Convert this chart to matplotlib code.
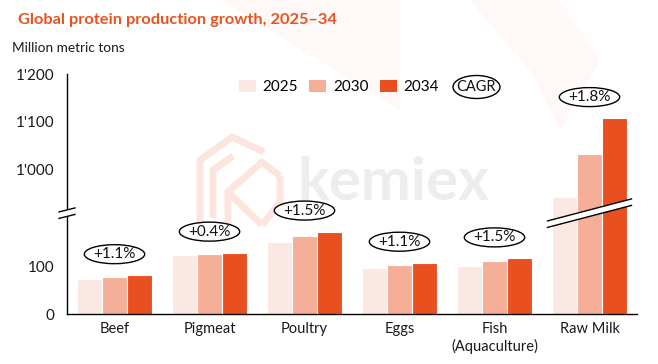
import numpy as np
import matplotlib.pyplot as plt
from matplotlib.patches import Patch, Ellipse, Polygon
from matplotlib.lines import Line2D
from matplotlib.transforms import ScaledTranslation, blended_transform_factory

plt.rcParams['font.family'] = ['Lato', 'DejaVu Sans']

categories = ['Beef', 'Pigmeat', 'Poultry', 'Eggs', 'Fish\n(Aquaculture)', 'Raw Milk']
years = ['2025', '2030', '2034']
v2025 = [73, 123, 150, 96, 100, 944]
v2030 = [78, 126, 162, 102, 110, 1033]
v2034 = [81, 128, 172, 107, 116, 1108]
cagr = ['+1.1%', '+0.4%', '+1.5%', '+1.1%', '+1.5%', '+1.8%']
yticks = [0, 100, 1000, 1100, 1200]
ytick_labels = ["0", "100", "1'000", "1'100", "1'200"]

colors = ['#fce8e3', '#f5af98', '#e8501f']
title_color = '#e9531f'

# broken axis: squeeze 210..910 into almost nothing
LO, HI, K = 210, 910, 0.001
GAP = (HI - LO) * K


def fwd(v):
    v = np.asarray(v, float)
    return np.where(v <= LO, v, np.where(v < HI, LO + (v - LO) * K, LO + GAP + v - HI))


def inv(u):
    u = np.asarray(u, float)
    return np.where(u <= LO, u, np.where(u < LO + GAP, LO + (u - LO) / K, u - LO - GAP + HI))


W, H = 658, 364
fig = plt.figure(figsize=(W / 100, H / 100), dpi=100)


def px(pts):
    return [(p[0] / W, 1 - p[1] / H) for p in pts]


# faint background shapes
for pts in ([(220, 0), (400, 0), (400, 110)],
            [(470, 0), (560, 0), (600, 60), (560, 130), (530, 70)]):
    fig.patches.append(Polygon(px(pts), closed=True, transform=fig.transFigure,
                               fc='#fef8f6', ec='none', zorder=-3))

# watermark
fig.text(297 / W, 1 - 200 / H, 'kemiex', fontsize=43, fontweight='bold',
         color='#ededed', va='baseline', ha='left', zorder=-2)
logo_pts = [
    [(200, 225), (200, 160), (232, 137), (264, 152)],
    [(213, 218), (213, 170), (233, 156)],
    [(228, 226), (228, 192), (262, 162), (280, 176)],
    [(228, 192), (262, 225)],
    [(280, 176), (280, 202), (262, 225)],
]
for pts in logo_pts:
    xs, ys = zip(*px(pts))
    fig.lines.append(Line2D(xs, ys, transform=fig.transFigure, color='#fce5de',
                            lw=5, solid_capstyle='butt', zorder=-2))

ax = fig.add_axes([67 / W, 1 - 314 / H, 570 / W, 240 / H])
ax.patch.set_visible(False)
ax.set_yscale('function', functions=(fwd, inv))

x = np.arange(len(categories))
bw = 0.26
for j, (vals, c) in enumerate(zip([v2025, v2030, v2034], colors)):
    ax.bar(x + (j - 1) * bw, vals, width=bw, color=c, edgecolor='white', linewidth=0.8, zorder=2)

ax.set_xlim(-0.5, len(categories) - 0.5)
ax.set_ylim(0, 1200)
ax.set_yticks(yticks)
ax.set_yticklabels(ytick_labels)
ax.set_xticks(x)
ax.set_xticklabels(categories)
ax.tick_params(axis='y', length=0, pad=9, labelsize=11, labelcolor='#1a1a1a')
ax.tick_params(axis='x', length=0, pad=6, labelsize=10.5, labelcolor='#1a1a1a')
for s in ['top', 'right']:
    ax.spines[s].set_visible(False)
for s in ['left', 'bottom']:
    ax.spines[s].set_linewidth(1)

fig.canvas.draw()
renderer = fig.canvas.get_renderer()

# CAGR ellipses
tops = np.max([v2025, v2030, v2034], axis=0)
for i, (t, lab) in enumerate(zip(tops, cagr)):
    tr = ScaledTranslation(i, t, ax.transData)
    txt = ax.text(0, 0.21, lab, transform=fig.dpi_scale_trans + tr, ha='center', va='center',
                  fontsize=11, color='#111111', zorder=6)
    ext = txt.get_window_extent(renderer)
    e = Ellipse((0, 0.21), (ext.width + 18) / 100, 0.19, transform=fig.dpi_scale_trans + tr,
                fc='white', ec='black', lw=1, zorder=5, clip_on=False)
    ax.add_patch(e)

# axis break marks
yx = blended_transform_factory(ax.transAxes, ax.transData)
xy = ax.transData


def break_mark(anchor, half, dy, sep):
    off = fig.dpi_scale_trans + anchor
    band = Polygon([(-half, -dy + sep / 2), (half, dy + sep / 2), (half, dy - sep / 2), (-half, -dy - sep / 2)],
                   closed=True, transform=off, fc='white', ec='none', zorder=7, clip_on=False)
    ax.add_patch(band)
    for s in (sep / 2, -sep / 2):
        ax.add_line(Line2D([-half, half], [-dy + s, dy + s], transform=off, color='black',
                           lw=1, zorder=8, clip_on=False))


break_mark(ScaledTranslation(0, 560, yx), 0.08, 0.02, 0.065)
break_mark(ScaledTranslation(5, 560, xy), 0.42, 0.11, 0.065)

# legend
handles = [Patch(fc=c, ec='none') for c in colors]
fig.legend(handles, years, loc='center', bbox_to_anchor=(339 / W, 1 - 87 / H), ncol=3,
           frameon=False, fontsize=11, handlelength=1.1, handleheight=0.85,
           handletextpad=0.45, columnspacing=0.75, borderpad=0)
fig.text(476.5 / W, 1 - 87 / H, 'CAGR', ha='center', va='center', fontsize=10.5, color='#111111', zorder=6)
fig.patches.append(Ellipse((476.5 / W, 1 - 87 / H), 47 / W, 23 / H, transform=fig.transFigure,
                           fc='white', ec='black', lw=1, zorder=5))

fig.text(18 / W, 1 - 20 / H, 'Global protein production growth, 2025\u201334', fontsize=11.8,
         fontweight='bold', color=title_color, va='center', ha='left')
fig.text(12 / W, 1 - 48 / H, 'Million metric tons', fontsize=9.8, color='#1a1a1a', va='center', ha='left')

fig.savefig('out.png', dpi=100)
